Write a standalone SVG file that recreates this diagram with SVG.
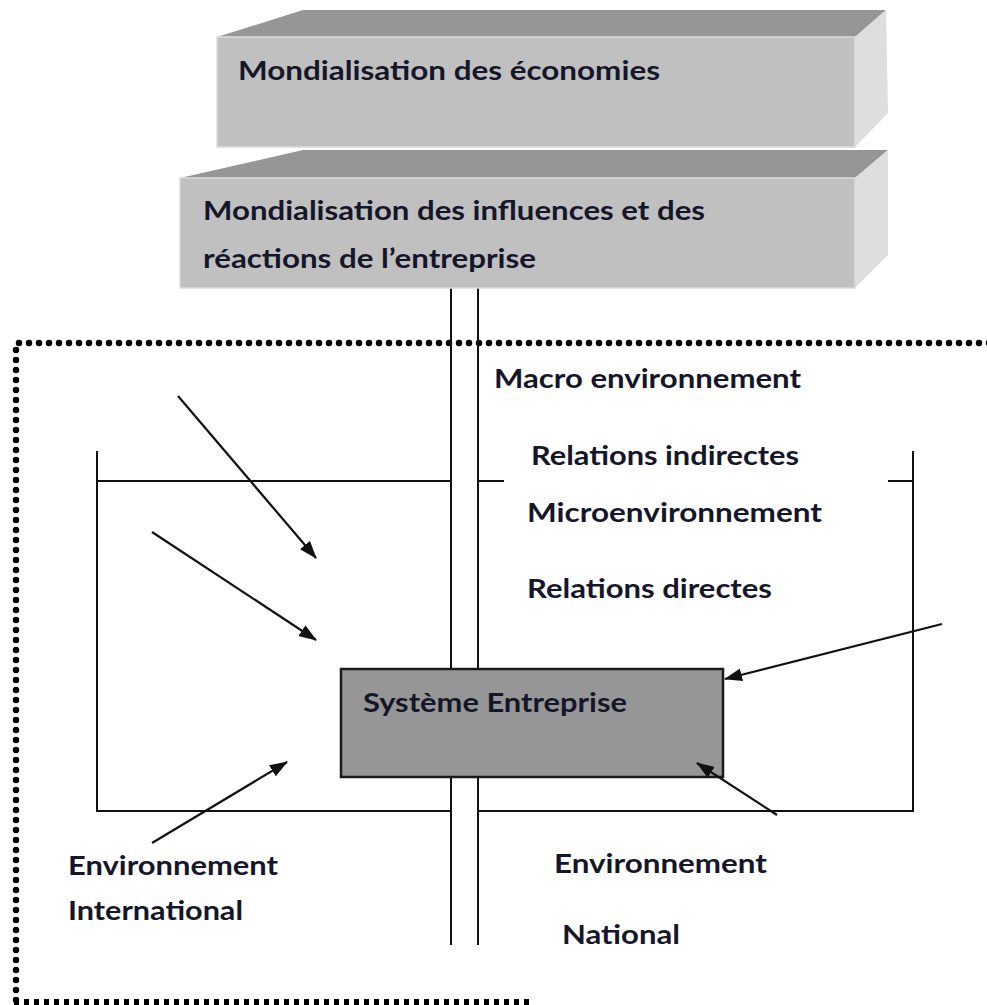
<svg xmlns="http://www.w3.org/2000/svg" width="987" height="1005" viewBox="0 0 987 1005">
<defs>
<style>
.t{font-family:Lato,"Liberation Sans",sans-serif;font-weight:700;font-size:27px;fill:#16162a}
.ln{stroke:#111;stroke-width:2;fill:none}
.arr{stroke:#111;stroke-width:2.2;fill:none;marker-end:url(#ah)}
.dot{stroke:#000;stroke-width:6.5;fill:none;stroke-linecap:round;stroke-dasharray:0 10}
.dotb{stroke:#000;stroke-width:6;fill:none;stroke-dasharray:5 5}
.front{fill:#c0c0c0;stroke:#dcdcdc;stroke-width:1.5}
.top{fill:#969696}
.side{fill:#dedede}
</style>
<marker id="ah" viewBox="0 0 18 13" refX="17" refY="6.5" markerWidth="18" markerHeight="13" markerUnits="userSpaceOnUse" orient="auto">
<path d="M0,0 L18,6.5 L0,13 z" fill="#111"/>
</marker>
</defs>
<rect width="987" height="1005" fill="#fff"/>

<g id="frame-macro">
<path class="dot" d="M16,1000 L16,343 L990,343"/>
<path class="dotb" d="M14,1002 L530,1002"/>
</g>

<g id="frame-micro">
<path class="ln" d="M97,451 L97,811 L451,811"/>
<path class="ln" d="M97,481 L451,481"/>
<path class="ln" d="M478,481 L504,481"/>
<path class="ln" d="M888,481 L913,481"/>
<path class="ln" d="M913,451 L913,811 L478,811"/>
</g>

<g id="axis">
<path class="ln" d="M451,288 L451,945"/>
<path class="ln" d="M478,288 L478,945"/>
</g>

<g id="box-economies">
<polygon class="top" points="217,37 303,10 886,10 855,37"/>
<polygon class="side" points="855,37 886,10 888,113 855,147"/>
<polygon class="front" points="217,37 855,37 855,147 217,147"/>
<text class="t" x="238" y="80" textLength="422" lengthAdjust="spacingAndGlyphs">Mondialisation des économies</text>
</g>

<g id="box-influences">
<polygon class="top" points="180,178 303,150 888,150 855,178"/>
<polygon class="side" points="855,178 888,150 888,255 855,288"/>
<polygon class="front" points="180,178 855,178 855,288 180,288"/>
<text class="t" x="203" y="220" textLength="502" lengthAdjust="spacingAndGlyphs">Mondialisation des influences et des</text>
<text class="t" x="203" y="268" textLength="333" lengthAdjust="spacingAndGlyphs">réactions de l’entreprise</text>
</g>

<g id="systeme-entreprise">
<rect x="341" y="669" width="382" height="108" fill="#969696" stroke="#1a1a1a" stroke-width="2.5"/>
<text class="t" x="363" y="712" textLength="264" lengthAdjust="spacingAndGlyphs">Système Entreprise</text>
</g>

<g id="connectors">
<path class="arr" d="M178,396 L316,558"/>
<path class="arr" d="M152,532 L316,640"/>
<path class="arr" d="M152,843 L287,762"/>
<path class="arr" d="M942,624 L725,679"/>
<path class="arr" d="M777,815 L697,763"/>
</g>

<g id="labels">
<text class="t" x="494" y="388" textLength="307" lengthAdjust="spacingAndGlyphs">Macro environnement</text>
<text class="t" x="531" y="465" textLength="268" lengthAdjust="spacingAndGlyphs">Relations indirectes</text>
<text class="t" x="527" y="522" textLength="295" lengthAdjust="spacingAndGlyphs">Microenvironnement</text>
<text class="t" x="527" y="598" textLength="245" lengthAdjust="spacingAndGlyphs">Relations directes</text>
<text class="t" x="68" y="875" textLength="210" lengthAdjust="spacingAndGlyphs">Environnement</text>
<text class="t" x="68" y="920" textLength="175" lengthAdjust="spacingAndGlyphs">International</text>
<text class="t" x="554" y="873" textLength="213" lengthAdjust="spacingAndGlyphs">Environnement</text>
<text class="t" x="562" y="944" textLength="118" lengthAdjust="spacingAndGlyphs">National</text>
</g>
</svg>
